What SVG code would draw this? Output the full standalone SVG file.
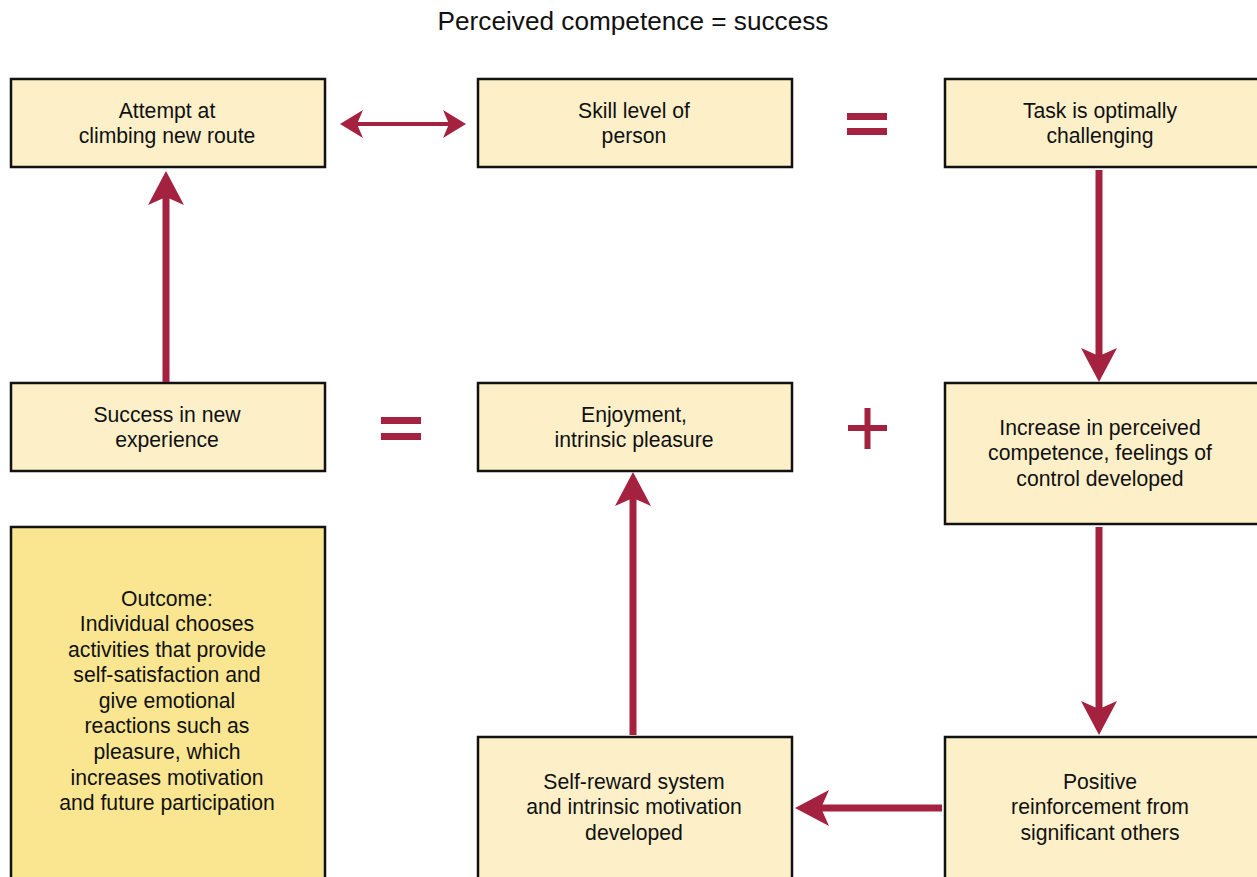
<svg xmlns="http://www.w3.org/2000/svg" width="1257" height="877" viewBox="0 0 1257 877">
  <style>
    .box { fill: #FDF0C9; stroke: #111; stroke-width: 2.5; }
    .outcome { fill: #FAE690; stroke: #111; stroke-width: 2.5; }
    .label { font-family: "Liberation Sans", Arial, sans-serif; font-size: 21.2px; fill: #111; text-anchor: middle; }
    .title { font-family: "Liberation Sans", Arial, sans-serif; font-size: 26.2px; fill: #111; text-anchor: middle; }
    .shaft { stroke: #A4223F; fill: none; }
    .head { fill: #A4223F; }
    .sym { fill: #A4223F; }
  </style>

  <rect width="1257" height="877" fill="#fff"/>

  <text class="title" x="633" y="30">Perceived competence = success</text>

  <g id="attempt">
    <rect class="box" x="11" y="79" width="314" height="88"/>
    <text class="label" x="167" y="118">Attempt at</text>
    <text class="label" x="167" y="143">climbing new route</text>
  </g>

  <g id="skill">
    <rect class="box" x="478" y="79" width="314" height="88"/>
    <text class="label" x="634" y="118">Skill level of</text>
    <text class="label" x="634" y="143">person</text>
  </g>

  <g id="task">
    <rect class="box" x="945" y="79" width="320" height="88"/>
    <text class="label" x="1100" y="118">Task is optimally</text>
    <text class="label" x="1100" y="143">challenging</text>
  </g>

  <g id="success">
    <rect class="box" x="11" y="383" width="314" height="88"/>
    <text class="label" x="167" y="422">Success in new</text>
    <text class="label" x="167" y="447">experience</text>
  </g>

  <g id="enjoyment">
    <rect class="box" x="478" y="383" width="314" height="88"/>
    <text class="label" x="634" y="422">Enjoyment,</text>
    <text class="label" x="634" y="447">intrinsic pleasure</text>
  </g>

  <g id="competence">
    <rect class="box" x="945" y="383" width="320" height="141"/>
    <text class="label" x="1100" y="435">Increase in perceived</text>
    <text class="label" x="1100" y="460">competence, feelings of</text>
    <text class="label" x="1100" y="486">control developed</text>
  </g>

  <g id="outcome">
    <rect class="outcome" x="11" y="527" width="314" height="360"/>
    <text class="label" x="167" y="606">Outcome:</text>
    <text class="label" x="167" y="631">Individual chooses</text>
    <text class="label" x="167" y="657">activities that provide</text>
    <text class="label" x="167" y="682">self-satisfaction and</text>
    <text class="label" x="167" y="708">give emotional</text>
    <text class="label" x="167" y="733">reactions such as</text>
    <text class="label" x="167" y="759">pleasure, which</text>
    <text class="label" x="167" y="785">increases motivation</text>
    <text class="label" x="167" y="810">and future participation</text>
  </g>

  <g id="selfreward">
    <rect class="box" x="478" y="737" width="314" height="150"/>
    <text class="label" x="634" y="789">Self-reward system</text>
    <text class="label" x="634" y="814">and intrinsic motivation</text>
    <text class="label" x="634" y="840">developed</text>
  </g>

  <g id="reinforcement">
    <rect class="box" x="945" y="737" width="320" height="150"/>
    <text class="label" x="1100" y="789">Positive</text>
    <text class="label" x="1100" y="814">reinforcement from</text>
    <text class="label" x="1100" y="840">significant others</text>
  </g>

  <!-- operators between boxes -->
  <g id="operators">
    <rect class="sym" x="847" y="113" width="40" height="7"/>
    <rect class="sym" x="847" y="128" width="40" height="7"/>
    <rect class="sym" x="381" y="417" width="40" height="7"/>
    <rect class="sym" x="381" y="433" width="40" height="7"/>
    <rect class="sym" x="848" y="425" width="39" height="6"/>
    <rect class="sym" x="864.5" y="408" width="6" height="41"/>
  </g>

  <g id="connectors">
    <!-- attempt <-> skill -->
    <line class="shaft" x1="355" y1="124" x2="452" y2="124" stroke-width="4"/>
    <path class="head" d="M340,124 L363,110 L357,124 L363,138 Z"/>
    <path class="head" d="M466,124 L443,110 L449,124 L443,138 Z"/>

    <!-- success -> attempt -->
    <line class="shaft" x1="166" y1="382" x2="166" y2="196" stroke-width="7"/>
    <path class="head" d="M166,171 L184,205 L166,197 L148,205 Z"/>

    <!-- task -> competence -->
    <line class="shaft" x1="1099" y1="170" x2="1099" y2="356" stroke-width="7"/>
    <path class="head" d="M1099,382 L1117,348 L1099,356 L1081,348 Z"/>

    <!-- competence -> reinforcement -->
    <line class="shaft" x1="1099" y1="527" x2="1099" y2="710" stroke-width="7"/>
    <path class="head" d="M1099,735 L1117,701 L1099,709 L1081,701 Z"/>

    <!-- reinforcement -> selfreward -->
    <line class="shaft" x1="942" y1="808" x2="820" y2="808" stroke-width="7"/>
    <path class="head" d="M795,808 L829,790 L821,808 L829,826 Z"/>

    <!-- selfreward -> enjoyment -->
    <line class="shaft" x1="633" y1="735" x2="633" y2="498" stroke-width="7"/>
    <path class="head" d="M633,472 L651,506 L633,498 L615,506 Z"/>
  </g>
</svg>
